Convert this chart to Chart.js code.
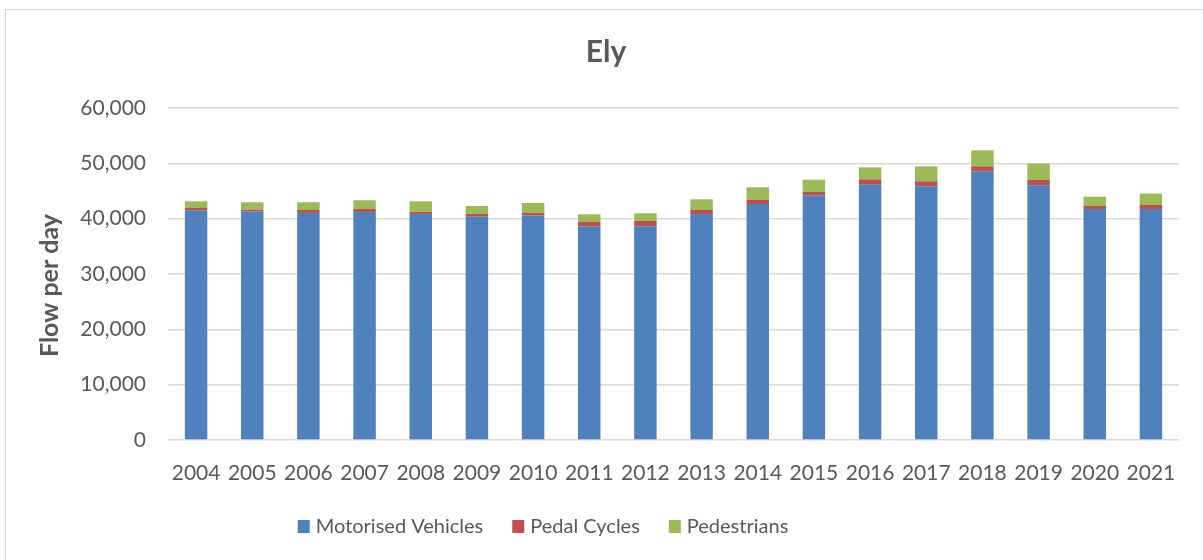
<!DOCTYPE html>
<html>
<head>
<meta charset="utf-8">
<script src="https://cdn.jsdelivr.net/npm/chart.js@4.4.1/dist/chart.umd.min.js"></script>
<style>
  html, body { margin: 0; padding: 0; background: #fff; }
</style>
</head>
<body>
<canvas id="graficoEly" width="1203" height="560"></canvas>
<script>
var anos = ["2004", "2005", "2006", "2007", "2008", "2009", "2010", "2011", "2012",
  "2013", "2014", "2015", "2016", "2017", "2018", "2019", "2020", "2021"];
var motorizados = [41460, 41280, 41030, 41210, 40850, 40380, 40560, 38630, 38630,
  40850, 42650, 44170, 46210, 45850, 48560, 46030, 41750, 41750];
var bicicletas = [470, 360, 540, 540, 360, 470, 470, 780, 960,
  720, 790, 650, 900, 900, 900, 960, 540, 720];
var pedestres = [1210, 1320, 1390, 1570, 1930, 1440, 1800, 1380, 1380,
  1930, 2230, 2230, 2170, 2710, 2890, 2950, 1690, 2060];
var ticksY = [0, 10000, 20000, 30000, 40000, 50000, 60000];

var cinza = "#595959";
var fonte = "Lato";

// moldura, titulo do eixo y e legenda
var extras = {
  id: "extras",
  afterDraw: function (chart) {
    var ctx = chart.ctx;
    ctx.save();
    ctx.strokeStyle = "#d9d9d9";
    ctx.lineWidth = 1;
    ctx.beginPath();
    ctx.moveTo(5.5, 560);
    ctx.lineTo(5.5, 9.5);
    ctx.lineTo(1203, 9.5);
    ctx.stroke();

    ctx.save();
    ctx.translate(50, 285.5);
    ctx.rotate(-Math.PI / 2);
    ctx.font = "bold 25px " + fonte;
    ctx.fillStyle = cinza;
    ctx.textAlign = "center";
    ctx.textBaseline = "middle";
    ctx.fillText("Flow per day", 0, 0);
    ctx.restore();

    ctx.font = "20px " + fonte;
    ctx.textAlign = "left";
    ctx.textBaseline = "middle";
    var ds = chart.data.datasets;
    var larguras = ds.map(function (d) { return 18 + ctx.measureText(d.label).width; });
    var total = larguras.reduce(function (a, b) { return a + b; }, 0) + 29 * (ds.length - 1);
    var x = 543 - total / 2;
    ds.forEach(function (d, i) {
      ctx.fillStyle = d.backgroundColor;
      ctx.fillRect(x, 520, 12, 13);
      ctx.fillStyle = cinza;
      ctx.fillText(d.label, x + 18, 527);
      x += larguras[i] + 29;
    });
    ctx.restore();
  }
};

var el = document.getElementById("graficoEly");
new Chart(el, {
  type: "bar",
  data: {
    labels: anos,
    datasets: [
      { label: "Motorised Vehicles", data: motorizados, backgroundColor: "#4F81BD" },
      { label: "Pedal Cycles", data: bicicletas, backgroundColor: "#C0504D" },
      { label: "Pedestrians", data: pedestres, backgroundColor: "#9BBB59" },
    ],
  },
  options: {
    responsive: false,
    animation: false,
    categoryPercentage: 1,
    barPercentage: 0.4,
    layout: { padding: { left: 33, right: 24, top: 0, bottom: 70 } },
    plugins: {
      legend: { display: false },
      tooltip: { enabled: false },
      title: {
        display: true,
        text: "Ely",
        color: cinza,
        font: { family: fonte, size: 30, weight: "bold", lineHeight: 1.2 },
        padding: { top: 34, bottom: 38 },
      },
    },
    scales: {
      x: {
        stacked: true,
        grid: { display: false },
        border: { display: false },
        ticks: { color: cinza, padding: 13, maxRotation: 0, font: { family: fonte, size: 21 } },
        afterFit: function (s) { s.height = 50; },
      },
      y: {
        stacked: true,
        min: 0,
        max: 60000,
        afterBuildTicks: function (s) { s.ticks = ticksY.map(function (v) { return { value: v }; }); },
        grid: { color: "#d9d9d9", lineWidth: 1.5, drawTicks: false },
        border: { display: false },
        ticks: {
          color: cinza,
          padding: 22,
          font: { family: fonte, size: 21 },
          callback: function (v) { return v.toLocaleString("en-US"); },
        },
        afterFit: function (s) { s.width = 135; },
      },
    },
  },
  plugins: [extras],
});
</script>
</body>
</html>
